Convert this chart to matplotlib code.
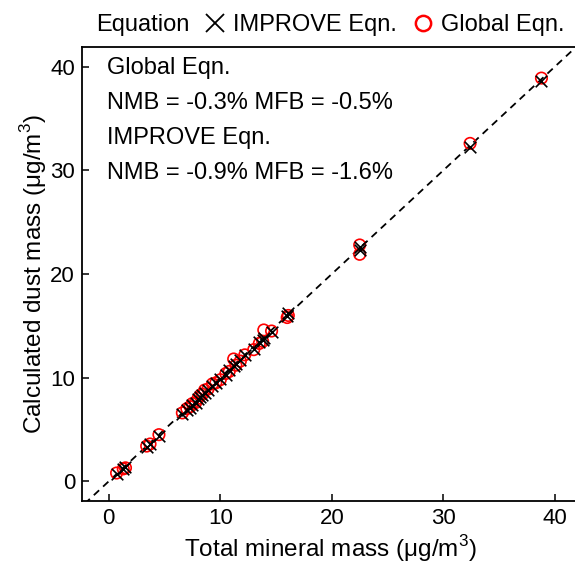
import matplotlib
matplotlib.use("Agg")
import matplotlib.pyplot as plt
from matplotlib.lines import Line2D

plt.rcParams['font.family'] = ['Liberation Sans', 'DejaVu Sans']
plt.rcParams['mathtext.fontset'] = 'custom'
plt.rcParams['mathtext.rm'] = 'Liberation Sans'

total_mineral = [0.7, 1.3, 1.5, 3.4, 3.7, 4.5, 6.6, 7.0, 7.3, 7.5, 7.8, 8.0, 8.2, 8.4, 8.6, 8.9,
                 9.3, 9.6, 10.0, 10.5, 10.8, 11.2, 11.4, 11.8, 12.2, 13.0, 13.5, 13.8, 13.9,
                 14.6, 16.0, 16.1, 22.5, 22.5, 32.4, 38.8]
global_eqn = [0.8, 1.2, 1.3, 3.4, 3.6, 4.5, 6.6, 7.0, 7.2, 7.5, 7.6, 8.0, 8.3, 8.4, 8.8, 8.9,
              9.4, 9.5, 9.8, 10.4, 10.6, 11.8, 11.2, 11.6, 12.2, 12.7, 13.3, 13.5, 14.6,
              14.5, 15.8, 16.0, 22.8, 21.9, 32.6, 38.9]
improve_eqn = [0.7, 1.2, 1.4, 3.3, 3.6, 4.4, 6.5, 6.9, 7.1, 7.4, 7.6, 7.9, 8.1, 8.3, 8.5, 8.8,
               9.2, 9.5, 9.9, 10.3, 10.7, 11.1, 11.3, 11.7, 12.2, 12.8, 13.4, 13.6, 13.8,
               14.4, 15.9, 16.2, 22.6, 22.3, 32.3, 38.6]
ticks = [0, 10, 20, 30, 40]
stats_text = ["Global Eqn.", "NMB = -0.3% MFB = -0.5%", "IMPROVE Eqn.", "NMB = -0.9% MFB = -1.6%"]

W, H = 575, 568
fig = plt.figure(figsize=(W / 100, H / 100), dpi=100)
ax = fig.add_axes([82 / W, 1 - 501 / H, 0.865, (501 - 47) / H])

ax.plot([-3, 43], [-3, 43], ls=(0, (4, 3)), color='black', lw=1.3, zorder=1)
ax.scatter(total_mineral, global_eqn, marker='o', s=68, facecolors='none',
           edgecolors='red', linewidths=1.2, zorder=2)
ax.scatter(total_mineral, improve_eqn, marker='x', s=70, color='black',
           linewidths=1.2, zorder=3)

ax.set_xlim(-2.4, 42.2)
ax.set_ylim(-1.9, 41.9)
ax.set_xticks(ticks)
ax.set_yticks(ticks)
ax.tick_params(direction='in', length=5, width=1.1, labelsize=16, pad=5)
for s in ax.spines.values():
    s.set_linewidth(1.3)

ax.set_xlabel("Total mineral mass (μg/m$^3$)", fontsize=17.5, labelpad=3)
ax.set_ylabel("Calculated dust mass (μg/m$^3$)", fontsize=17.5, labelpad=1)

for i, t in enumerate(stats_text):
    fig.text(107 / W, 1 - (68 + 35 * i) / H, t, fontsize=17, va='center', ha='left')

handles = [Line2D([], [], ls='none', marker='x', color='black', markersize=13, mew=1.3),
           Line2D([], [], ls='none', marker='o', mfc='none', mec='red', markersize=11, mew=1.8)]
fig.text(96 / W, 1 - 25 / H, "Equation", fontsize=17, va='center', ha='left')
fig.legend(handles, ["IMPROVE Eqn.", "Global Eqn."], loc='center left',
           bbox_to_anchor=(203 / W, 1 - 25 / H), ncol=2, frameon=False,
           fontsize=17, handlelength=1.0, handletextpad=0.26, columnspacing=0.6,
           borderaxespad=0, borderpad=0)

fig.savefig("out.png", dpi=100)
